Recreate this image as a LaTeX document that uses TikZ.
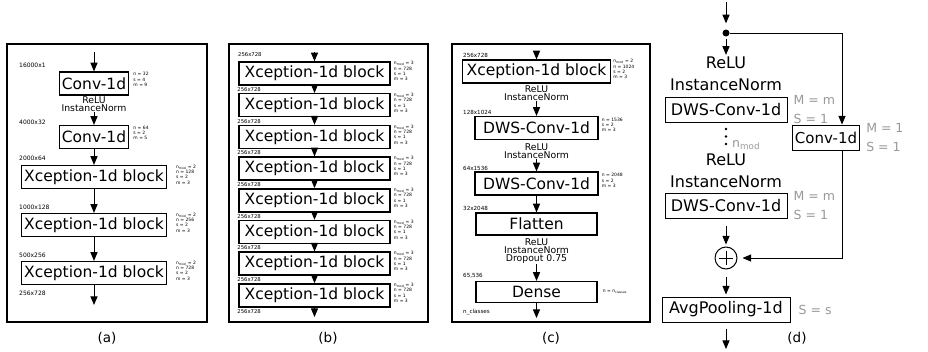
\documentclass[tikz,border=0pt]{standalone}
\usepackage{fontspec}
\setmainfont{DejaVu Sans}
\usetikzlibrary{arrows}

\begin{document}
\begin{tikzpicture}[x=1pt,y=-1pt,>=triangle 45,
	framebox/.style={draw,line width=1.3pt},
	blk/.style={draw,line width=1.3pt,inner xsep=2.5pt,inner ysep=0pt,minimum height=23pt,font=\fontsize{15.5}{17}\selectfont},
	dblk/.style={draw,line width=1pt,inner xsep=2.5pt,inner ysep=0pt,minimum height=25pt,font=\fontsize{16}{18}\selectfont},
	dims/.style={anchor=west,inner sep=0pt,font=\fontsize{6}{7}\selectfont},
	pars/.style={anchor=north west,align=left,inner sep=0pt,font=\fontsize{4.5}{5.3}\selectfont},
	acts/.style={align=center,inner sep=0pt,font=\fontsize{9.3}{8.2}\selectfont},
	dacts/.style={align=center,inner sep=0pt,font=\fontsize{16}{22}\selectfont},
	gpars/.style={anchor=west,align=left,inner sep=0pt,text=gray!80,font=\fontsize{12.5}{19}\selectfont},
	flow/.style={->,line width=1pt},
	panelname/.style={font=\fontsize{13.5}{15}\selectfont}]
	\useasboundingbox (0,0) rectangle (928,351);

	% (a)
	\draw[framebox] (7,44) rectangle (207,322);
	\coordinate (a0) at (94,52);
	\node[blk] (a1) at (94,83.5) {Conv-1d};
	\node[acts] (ra) at (94,104) {ReLU\\InstanceNorm};
	\node[blk] (a2) at (94,137) {Conv-1d};
	\node[blk] (a3) at (94,177) {Xception-1d block};
	\node[blk] (a4) at (94,225) {Xception-1d block};
	\node[blk] (a5) at (94,273) {Xception-1d block};
	\coordinate (a6) at (94,305);
	\draw[flow] (a0) -- (a1);
	\draw[flow] (ra) -- (a2);
	\draw[flow] (a2) -- (a3);
	\draw[flow] (a3) -- (a4);
	\draw[flow] (a4) -- (a5);
	\draw[flow] (a5) -- (a6);
	\node[dims] at (19,65) {16000x1};
	\node[dims] at (19,122) {4000x32};
	\node[dims] at (19,158) {2000x64};
	\node[dims] at (19,207) {1000x128};
	\node[dims] at (19,255) {500x256};
	\node[dims] at (19,293) {256x728};
	\node[pars] (pa1) at ([xshift=4pt,yshift=-1pt]a1.north east) {n = 32\\s = 4\\m = 9};
	\node[pars] (pa2) at ([xshift=4pt,yshift=-1pt]a2.north east) {n = 64\\s = 2\\m = 5};
	\node[pars] (pa3) at ([xshift=9pt]a3.north east) {n\textsubscript{mod} = 2\\n = 128\\s = 2\\m = 3};
	\node[pars] (pa4) at ([xshift=9pt]a4.north east) {n\textsubscript{mod} = 2\\n = 256\\s = 2\\m = 3};
	\node[pars] (pa5) at ([xshift=9pt]a5.north east) {n\textsubscript{mod} = 2\\n = 728\\s = 2\\m = 3};
	\node[panelname] at (107,338) {(a)};

	% (b)
	\draw[framebox] (229,44) rectangle (428,322);
	\coordinate (b0) at (314.5,52);
	\coordinate (b9) at (314.5,317);
	\node[dims,font=\fontsize{5.3}{6}\selectfont] at (238,55) {256x728};
	\foreach \i in {1,...,8}{
		\node[blk,line width=1.5pt,minimum width=151pt] (b\i) at (314.5,{73.5+31.7*(\i-1)}) {Xception-1d block};
		\node[pars] (pb\i) at ([xshift=3pt]b\i.north east) {n\textsubscript{mod} = 3\\n = 728\\s = 1\\m = 3};
		\node[dims,anchor=north west,font=\fontsize{5.3}{6}\selectfont] (lb\i) at ([xshift=-1pt,yshift=-1.5pt]b\i.south west) {256x728};
	}
	\foreach \i [count=\j from 2] in {1,...,7}
		\draw[flow] (b\i) -- (b\j);
	\draw[flow] (b0) -- (b1);
	\draw[flow] (b8) -- (b9);
	\node[panelname] at (328,338) {(b)};

	% (c)
	\draw[framebox] (452,44) rectangle (650,322);
	\coordinate (c0) at (536.5,52);
	\node[blk,minimum width=148pt] (c1) at (536.5,71.5) {Xception-1d block};
	\node[acts] (rc1) at (536.5,93.5) {ReLU\\InstanceNorm};
	\node[blk,minimum width=123pt] (c2) at (536.5,128) {DWS-Conv-1d};
	\node[acts] (rc2) at (536.5,151.5) {ReLU\\InstanceNorm};
	\node[blk,minimum width=123pt] (c3) at (536.5,183.5) {DWS-Conv-1d};
	\node[blk,minimum width=121pt,minimum height=22pt] (c4) at (536.5,224) {Flatten};
	\node[acts] (rc3) at (536.5,251) {ReLU\\InstanceNorm\\Dropout 0.75};
	\node[blk,minimum width=121pt,minimum height=21pt] (c5) at (536.5,292) {Dense};
	\coordinate (c6) at (536.5,318);
	\draw[flow] (c0) -- (c1);
	\draw[flow] (rc1) -- (c2);
	\draw[flow] (rc2) -- (c3);
	\draw[flow] (c3) -- (c4);
	\draw[flow] (rc3) -- (c5);
	\draw[flow] (c5) -- (c6);
	\node[dims,font=\fontsize{5.6}{6}\selectfont] at (463,55) {256x728};
	\node[dims,font=\fontsize{5.6}{6}\selectfont] at (463,112) {128x1024};
	\node[dims,font=\fontsize{5.6}{6}\selectfont] at (463,168) {64x1536};
	\node[dims,font=\fontsize{5.6}{6}\selectfont] at (463,208) {32x2048};
	\node[dims,font=\fontsize{5.6}{6}\selectfont] at (463,276) {65,536};
	\node[dims,font=\fontsize{5.6}{6}\selectfont] at (463,312) {n\_classes};
	\node[pars] (pc1) at ([xshift=2pt]c1.north east) {n\textsubscript{mod} = 2\\n = 1024\\s = 2\\m = 3};
	\node[pars] (pc2) at ([xshift=3pt,yshift=-2pt]c2.north east) {n = 1536\\s = 2\\m = 3};
	\node[pars] (pc3) at ([xshift=3pt,yshift=-2pt]c3.north east) {n = 2048\\s = 2\\m = 3};
	\node[pars,anchor=west] (pc5) at ([xshift=5pt]c5.east) {n = n\textsubscript{classes}};
	\node[panelname] at (551,338) {(c)};

	% (d)
	\coordinate (d0) at (726,2);
	\node[circle,fill,inner sep=0pt,minimum size=7pt] (dot) at (726,33) {};
	\node[dacts] (r1) at (726,74) {ReLU\\InstanceNorm};
	\node[dblk,minimum width=122pt] (d1) at (726,109.5) {DWS-Conv-1d};
	\node[gpars] (g1) at ([xshift=6pt]d1.east) {M = m\\S = 1};
	\foreach \y in {129,136.5,144}
		\fill (726,\y) circle (1.3pt);
	\node[gpars,anchor=west] (nm) at (732,145) {n\textsubscript{mod}};
	\node[dacts] (r2) at (726,171) {ReLU\\InstanceNorm};
	\node[dblk,minimum width=122pt] (d2) at (726,205.5) {DWS-Conv-1d};
	\node[gpars] (g2) at ([xshift=6pt]d2.east) {M = m\\S = 1};
	\node[circle,draw,line width=1pt,inner sep=0pt,minimum size=22pt] (sum) at (726,258) {};
	\draw[line width=1pt] ([yshift=7pt]sum.center) -- ([yshift=-7pt]sum.center)
		([xshift=-7pt]sum.center) -- ([xshift=7pt]sum.center);
	\node[dblk,minimum width=128pt] (d3) at (726,309.5) {AvgPooling-1d};
	\node[gpars] (g3) at ([xshift=8pt]d3.east) {S = s};
	\coordinate (d4) at (726,349);
	\node[dblk,font=\fontsize{15}{17}\selectfont] (dc) at (826,137.5) {Conv-1d};
	\node[gpars] (g4) at ([xshift=6pt]dc.east) {M = 1\\S = 1};
	\coordinate (rt) at (842,33);
	\coordinate (rb) at (842,258);
	\draw[flow,shorten >=6pt] (d0) -- (dot);
	\draw[flow,shorten <=2pt,shorten >=2pt] (dot) -- (r1);
	\draw[flow,shorten <=7pt,shorten >=2pt] (d2) -- (sum);
	\draw[flow,shorten <=7pt,shorten >=2pt] (sum) -- (d3);
	\draw[flow,shorten <=6pt] (d3) -- (d4);
	\draw[flow] (dot) -- (rt) -- (rt |- dc.north);
	\draw[flow,shorten >=5pt] (dc.south -| rt) -- (rb) -- (sum);
	\node[panelname] at (797,338) {(d)};

\end{tikzpicture}
\end{document}
